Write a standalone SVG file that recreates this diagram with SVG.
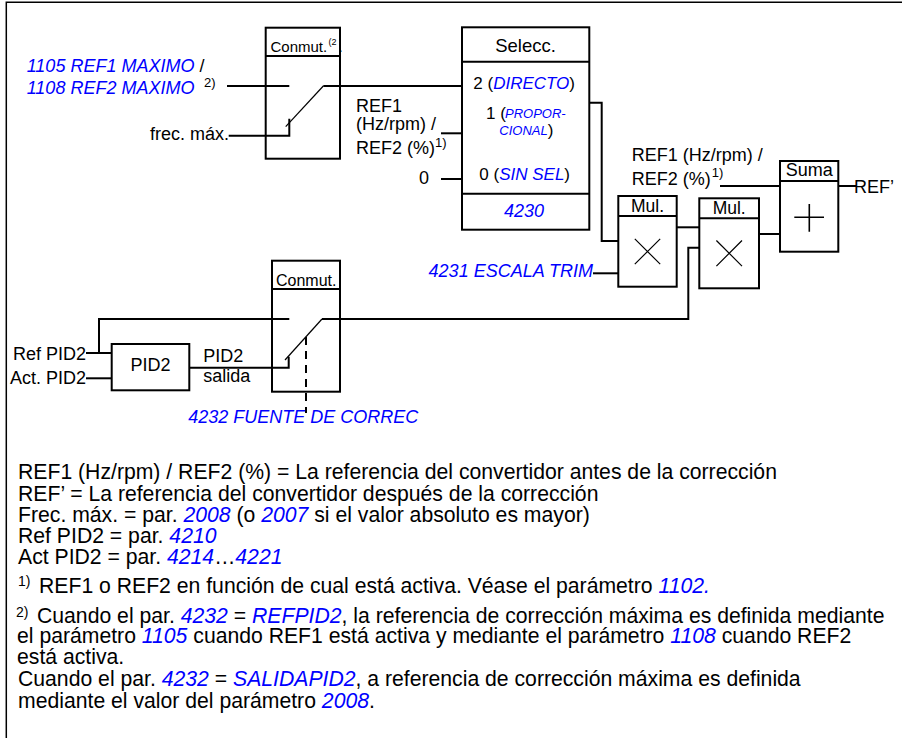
<svg xmlns="http://www.w3.org/2000/svg" width="902" height="738" viewBox="0 0 902 738">
<style>
.ln{stroke:#000;stroke-width:2;fill:none}
.box{fill:#fff;stroke:#000;stroke-width:2}
.thin{stroke:#000;stroke-width:1.2;fill:none}
.frame{stroke:#000;stroke-width:1.5;fill:none}
text{font-family:"Liberation Sans",Arial,Helvetica,sans-serif;font-size:18px;fill:#000}
.b{fill:#0000ff;font-style:italic}
.ft{font-size:21.2px}
.sup{font-size:14px}
.mid{text-anchor:middle}
.end{text-anchor:end}
</style>
<rect x="0" y="0" width="902" height="738" fill="#fff"/>
<path class="frame" d="M902,2.3 H6.3 V738"/>

<g id="conmut1">
<rect class="box" x="265.7" y="27.7" width="74.3" height="131"/>
<line class="ln" x1="265.7" y1="56" x2="340" y2="56"/>
<text x="270.5" y="51.5" style="font-size:15px">Conmut.<tspan style="font-size:9px" x="328.5" y="45">(2</tspan><tspan x="338.5" y="51.5">.</tspan></text>
</g>

<g id="selecc">
<rect class="box" x="462" y="27.3" width="127.3" height="202.4"/>
<line class="ln" x1="462" y1="61.7" x2="589.3" y2="61.7"/>
<line class="ln" x1="462" y1="193.7" x2="589.3" y2="193.7"/>
<text class="mid" x="525.5" y="52" style="font-size:18.5px">Selecc.</text>
<text x="473.3" y="89.3" style="font-size:17px">2 (<tspan class="b">DIRECTO</tspan>)</text>
<text x="486" y="119" style="font-size:17px">1 (</text>
<text class="b" x="505" y="118.3" style="font-size:13px">PROPOR-</text>
<text class="b" x="499.3" y="135" style="font-size:13px">CIONAL</text>
<text x="547.8" y="136" style="font-size:17px">)</text>
<text x="479.3" y="180" style="font-size:17px">0 (<tspan class="b">SIN SEL</tspan>)</text>
<text class="b mid" x="524" y="217.3">4230</text>
</g>

<g id="mul1">
<rect class="box" x="618.3" y="196" width="58.4" height="90.7"/>
<line class="ln" x1="618.3" y1="216" x2="676.7" y2="216"/>
<text class="mid" x="647.5" y="211.7" style="font-size:17.5px">Mul.</text>
<path class="thin" d="M634.8,238.8 L660.2,264.2 M660.2,238.8 L634.8,264.2"/>
</g>

<g id="mul2">
<rect class="box" x="699.3" y="198.3" width="59.7" height="90"/>
<line class="ln" x1="699.3" y1="218.3" x2="759" y2="218.3"/>
<text class="mid" x="729.2" y="214" style="font-size:17.5px">Mul.</text>
<path class="thin" d="M716.4,240.5 L742,266.1 M742,240.5 L716.4,266.1"/>
</g>

<g id="suma">
<rect class="box" x="780" y="161" width="58.3" height="90.7"/>
<line class="ln" x1="780" y1="181" x2="838.3" y2="181"/>
<text class="mid" x="809.2" y="176">Suma</text>
<path style="stroke:#000;stroke-width:1.6;fill:none" d="M794.3,217.3 H824 M809.3,204 V231.7"/>
</g>

<g id="conmut2">
<rect class="box" x="272" y="260.7" width="68" height="131"/>
<line class="ln" x1="272" y1="289" x2="340" y2="289"/>
<text x="276" y="285.7" style="font-size:16px">Conmut.</text>
</g>

<g id="pid2">
<rect class="box" x="111.7" y="344" width="77.6" height="46.3"/>
<text class="mid" x="150.5" y="370.7">PID2</text>
</g>

<g id="connectors">
<path class="ln" d="M227,86 H289.3"/>
<path class="ln" d="M228.7,135.7 H289.3 V118.7"/>
<path class="thin" d="M285.7,126.7 L323.3,86"/>
<path class="ln" d="M323.3,86 H462"/>
<path class="ln" d="M441,133.3 H462"/>
<path class="ln" d="M441,179 H462"/>
<path class="ln" d="M589.3,102.7 H601.7 V241 H618.3"/>
<path class="ln" d="M593,273.3 H618.3"/>
<path class="ln" d="M676.7,227.3 H699.3"/>
<path class="ln" d="M759,234 H780"/>
<path class="ln" d="M720,186 H780"/>
<path class="ln" d="M838.3,186 H856"/>
<path class="ln" d="M289.3,319 H99 V353"/>
<path class="ln" d="M86,353 H111.7"/>
<path class="ln" d="M86,378.3 H111.7"/>
<path class="ln" d="M189.3,367.7 H288.7 V356.7"/>
<path class="thin" d="M285,360 L322,319"/>
<path class="ln" d="M322,319 H688.3 V247.7 H699.3"/>
<path class="ln" d="M306,337 V413" stroke-dasharray="8 6"/>
</g>

<g id="labels">
<text x="26.7" y="71.7"><tspan class="b">1105 REF1 MAXIMO</tspan> /</text>
<text x="26.7" y="93.7"><tspan class="b">1108 REF2 MAXIMO</tspan></text>
<text x="204" y="87" style="font-size:13px">2)</text>
<text class="end" x="229" y="140">frec. máx.</text>
<text x="356" y="111.7">REF1</text>
<text x="356" y="130">(Hz/rpm) /</text>
<text x="356" y="154.3">REF2 (%)</text>
<text x="435" y="146.7" style="font-size:13px">1)</text>
<text x="419" y="184">0</text>
<text x="631.7" y="160.7">REF1 (Hz/rpm) /</text>
<text x="631.7" y="185">REF2 (%)</text>
<text x="711.7" y="176.7" style="font-size:13px">1)</text>
<text x="854" y="193.3">REF’</text>
<text class="b end" x="593" y="276.7">4231 ESCALA TRIM</text>
<text class="end" x="86" y="360">Ref PID2</text>
<text class="end" x="86" y="384">Act. PID2</text>
<text x="203.3" y="361.7">PID2</text>
<text x="203.3" y="382.3">salida</text>
<text class="b" x="188.3" y="423.3">4232 FUENTE DE CORREC</text>
</g>

<g id="notes">
<text class="ft" x="18" y="479">REF1 (Hz/rpm) / REF2 (%) = La referencia del convertidor antes de la corrección</text>
<text class="ft" x="18" y="500.7">REF’ = La referencia del convertidor después de la corrección</text>
<text class="ft" x="18" y="522">Frec. máx. = par. <tspan class="b">2008</tspan> (o <tspan class="b">2007</tspan> si el valor absoluto es mayor)</text>
<text class="ft" x="18" y="543">Ref PID2 = par. <tspan class="b">4210</tspan></text>
<text class="ft" x="18" y="564">Act PID2 = par. <tspan class="b">4214</tspan>…<tspan class="b">4221</tspan></text>
<text class="sup" x="18" y="586">1)</text>
<text class="ft" x="39" y="593">REF1 o REF2 en función de cual está activa. Véase el parámetro <tspan class="b">1102.</tspan></text>
<text class="sup" x="16" y="616.5">2)</text>
<text class="ft" x="37" y="622.5">Cuando el par. <tspan class="b">4232</tspan> = <tspan class="b">REFPID2</tspan>, la referencia de corrección máxima es definida mediante</text>
<text class="ft" x="17" y="643.3">el parámetro <tspan class="b">1105</tspan> cuando REF1 está activa y mediante el parámetro <tspan class="b">1108</tspan> cuando REF2</text>
<text class="ft" x="17" y="663.7">está activa.</text>
<text class="ft" x="18" y="686">Cuando el par. <tspan class="b">4232</tspan> = <tspan class="b">SALIDAPID2</tspan>, a referencia de corrección máxima es definida</text>
<text class="ft" x="18" y="708.3">mediante el valor del parámetro <tspan class="b">2008</tspan>.</text>
</g>
</svg>
